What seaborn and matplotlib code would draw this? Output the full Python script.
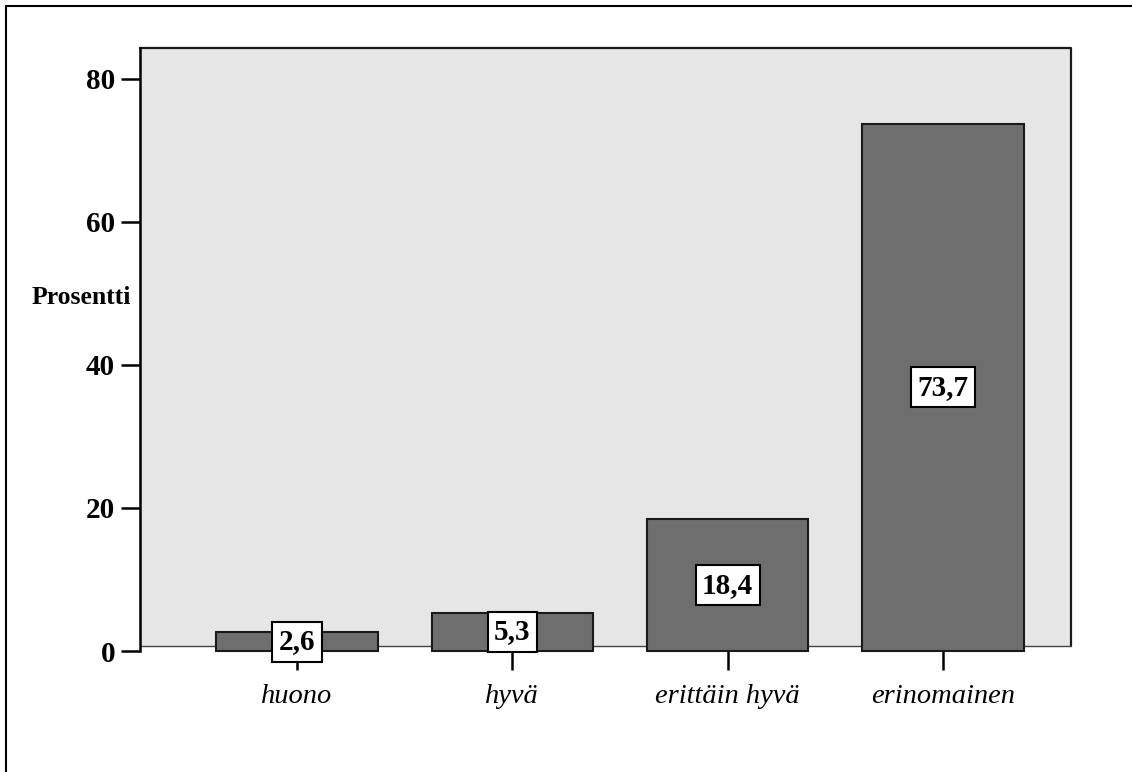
import matplotlib
matplotlib.use("Agg")
import matplotlib.pyplot as plt
from matplotlib.patches import Rectangle
from matplotlib.lines import Line2D
import seaborn as sns
import pandas as pd

categories = ["huono", "hyvä", "erittäin hyvä", "erinomainen"]
values = [2.6, 5.3, 18.4, 73.7]
value_labels = ["2,6", "5,3", "18,4", "73,7"]
yticks = [0, 20, 40, 60, 80]
ylabel = "Prosentti"

sns.set_style("white")
plt.rcParams["font.family"] = ["Liberation Serif", "DejaVu Serif"]
for k in ["text.color", "axes.labelcolor", "xtick.color", "ytick.color"]:
    plt.rcParams[k] = "black"

df = pd.DataFrame({"kategoria": categories, "prosentti": values})

W, H = 1132, 772
fig = plt.figure(figsize=(W / 100, H / 100), dpi=100)
ax = fig.add_axes([140 / W, (H - 651) / H, (1071 - 140) / W, (651 - 48) / H])
ax.set_facecolor("white")

# gray plot area
y0 = 5 / 603
bg = Rectangle((0, y0), 1, 1 - y0, transform=ax.transAxes,
               facecolor="#e6e6e6", edgecolor="none", zorder=0, clip_on=False)
ax.add_patch(bg)
ax.add_line(Line2D([0, 1, 1], [1, 1, y0], transform=ax.transAxes,
                   color="#1a1a1a", linewidth=1.6, zorder=0.5, clip_on=False))
ax.add_line(Line2D([0, 1], [y0, y0], transform=ax.transAxes,
                   color="#444444", linewidth=1.0, zorder=0.5, clip_on=False))

sns.barplot(data=df, x="kategoria", y="prosentti", ax=ax, color="#6e6e6e",
            width=0.75, edgecolor="#1a1a1a", linewidth=1.5, saturation=1,
            zorder=2)
for p in ax.patches:
    if p is not bg:
        p.set_clip_on(False)

for i, (v, lab) in enumerate(zip(values, value_labels)):
    ax.text(i, v / 2, lab, ha="center", va="center", fontsize=21,
            fontweight="bold", color="black", zorder=5,
            bbox=dict(boxstyle="square,pad=0.22", facecolor="white",
                      edgecolor="black", linewidth=1.5))

ax.set_xlim(-0.729, 3.595)
ax.set_ylim(0, 84.3)
ax.set_yticks(yticks)
ax.set_yticklabels([str(t) for t in yticks], fontsize=21, fontweight="bold")
ax.set_xticks(range(len(categories)))
ax.set_xticklabels(categories, fontsize=20.5, fontstyle="italic")
ax.tick_params(axis="y", direction="out", length=14, width=1.8, pad=4,
               left=True, colors="black")
ax.tick_params(axis="x", direction="out", length=14, width=1.8, pad=10,
               bottom=True, colors="black")

for s in ["top", "right", "bottom"]:
    ax.spines[s].set_visible(False)
ax.spines["left"].set_linewidth(1.8)
ax.spines["left"].set_color("black")

ax.set_xlabel("")
ax.set_ylabel("")
fig.text(81 / W, 1 - 297 / H, ylabel, ha="center", va="center",
         fontsize=18.5, fontweight="bold", color="black")

# outer frame (left and top edges)
fig.add_artist(Line2D([6 / W, 6 / W], [0, 1 - 6 / H], transform=fig.transFigure,
                      color="black", linewidth=1.5))
fig.add_artist(Line2D([6 / W, 1], [1 - 6 / H, 1 - 6 / H], transform=fig.transFigure,
                      color="black", linewidth=1.5))

fig.savefig("out.png", dpi=100)
